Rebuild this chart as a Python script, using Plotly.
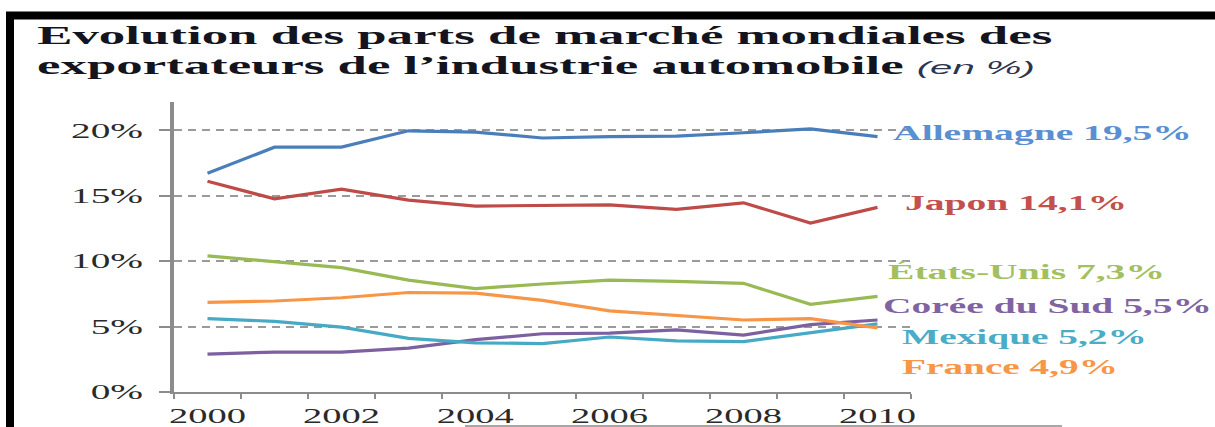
import json
import plotly.graph_objects as go

# ---------------- data ----------------
years = [2000, 2001, 2002, 2003, 2004, 2005, 2006, 2007, 2008, 2009, 2010]
allemagne = [16.7, 18.7, 18.7, 19.95, 19.85, 19.4, 19.5, 19.55, 19.8, 20.1, 19.5]
japon = [16.1, 14.75, 15.5, 14.65, 14.2, 14.25, 14.3, 13.95, 14.45, 12.9, 14.1]
etats_unis = [10.4, 9.95, 9.5, 8.55, 7.9, 8.25, 8.55, 8.45, 8.3, 6.7, 7.3]
coree = [2.9, 3.05, 3.05, 3.35, 4.0, 4.45, 4.5, 4.75, 4.35, 5.15, 5.5]
mexique = [5.6, 5.4, 4.95, 4.1, 3.75, 3.7, 4.2, 3.9, 3.85, 4.5, 5.2]
france = [6.85, 6.95, 7.2, 7.6, 7.55, 7.0, 6.2, 5.85, 5.5, 5.6, 4.9]

series_names = ["Allemagne", "Japon", "États-Unis", "Corée du Sud", "Mexique", "France"]
series_labels = ["Allemagne 19,5%", "Japon 14,1%", "États-Unis 7,3%",
                 "Corée du Sud 5,5%", "Mexique 5,2%", "France 4,9%"]
x_tick_labels = ["2000", "2002", "2004", "2006", "2008", "2010"]
x_tick_years = [2000, 2002, 2004, 2006, 2008, 2010]
y_ticks = [0, 5, 10, 15, 20]
y_tick_labels = ["0%", "5%", "10%", "15%", "20%"]

title_line1 = "Evolution des parts de marché mondiales des"
title_line2 = "exportateurs de l\u2019industrie automobile"
title_unit = "(en %)"

# ---------------- styling ----------------
W, H = 1215, 427
L, R, T, B = 174, 911, 102, 392
line_colors = ["#4a7ebb", "#be4b48", "#98b954", "#7d60a0", "#46aac5", "#f79646"]
label_colors = ["#5b8fd3", "#c4504e", "#a3c05f", "#8064a2", "#4bacc6", "#f79646"]
label_pos = [(892, 132), (904, 202), (887, 271), (882, 305), (901, 336), (901, 366)]
label_widths = [299, 222, 277, 329, 245, 216]   # rendered widths in the reference
title_widths = [1016, 998]
SERIF = "Liberation Serif"


def px(x):
    return (x - L) / (R - L)


def py(y):
    return (B - y) / (B - T)


fig = go.Figure()
all_series = [allemagne, japon, etats_unis, coree, mexique, france]
for name, vals, col in zip(series_names, all_series, line_colors):
    fig.add_trace(go.Scatter(x=years, y=vals, mode="lines", name=name,
                             line=dict(color=col, width=3.2), showlegend=False))

annotations = []
for txt, col, (ax, ay) in zip(series_labels, label_colors, label_pos):
    annotations.append(dict(text=txt, x=px(ax), y=py(ay), xref="paper", yref="paper",
                            xanchor="left", yanchor="middle", showarrow=False, borderpad=0,
                            font=dict(family=SERIF, size=22, color=col, weight="bold")))

title_font = dict(family=SERIF, size=25, color="#14141e", weight="bold")
annotations.append(dict(text=title_line1, x=px(36), y=py(35.5), xref="paper", yref="paper",
                        xanchor="left", yanchor="middle", showarrow=False, borderpad=0,
                        font=title_font))
annotations.append(dict(text=title_line2 +
                        " <span style='font-weight:normal;font-style:italic;font-size:19px;"
                        "font-family:Liberation Sans;color:#2e3350'>" + title_unit + "</span>",
                        x=px(36), y=py(65), xref="paper", yref="paper",
                        xanchor="left", yanchor="middle", showarrow=False, borderpad=0,
                        font=title_font))

shapes = [
    # black frame: only its left and top edges fall inside the picture
    dict(type="rect", xref="paper", yref="paper", x0=px(10), x1=px(1300), y0=py(520), y1=py(15.5),
         fillcolor="rgba(0,0,0,0)", line=dict(color="black", width=8), layer="above"),
    # thin grey line at the bottom
    dict(type="line", xref="paper", yref="paper", x0=px(465), x1=px(1062), y0=py(426), y1=py(426),
         line=dict(color="#8a8a8a", width=1.5)),
]

fig.update_layout(
    width=W, height=H,
    margin=dict(l=L, r=W - R, t=T, b=H - B, pad=0, autoexpand=False),
    paper_bgcolor="white", plot_bgcolor="white",
    annotations=annotations, shapes=shapes,
    xaxis=dict(range=[1999.5, 2010.5], tickvals=x_tick_years, ticktext=x_tick_labels,
               ticks="", showgrid=False, zeroline=False, automargin=False,
               showline=True, linecolor="#8c8c8c", linewidth=2,
               tickfont=dict(family=SERIF, size=21, color="#2a2a2a"),
               ticklabelstandoff=4,
               minor=dict(tickvals=[y - 0.5 for y in years] + [2010.5], ticks="outside",
                          ticklen=5, tickcolor="#8c8c8c", tickwidth=2, showgrid=False)),
    yaxis=dict(range=[0, 22.15], tickvals=y_ticks, ticktext=y_tick_labels,
               ticks="outside", ticklen=11, tickcolor="#8c8c8c", tickwidth=1.5,
               showgrid=True, gridcolor="#9a9a9a", gridwidth=1.5, griddash="8px,6px",
               zeroline=False, showline=True, linecolor="#8c8c8c", linewidth=3.5,
               automargin=False,
               tickfont=dict(family=SERIF, size=21, color="#2a2a2a"),
               ticklabelstandoff=12),
)

# The reference image is horizontally stretched; reproduce that look by widening
# the rendered text (text stays real SVG text).
cfg = {
    "ann": label_widths + title_widths,
    "yref": ["20%", 72],
    "xref": ["2000", 77],
}
post = """
document.documentElement.style.margin = '0';
document.body.style.margin = '0';
document.body.style.padding = '0';
var gd = document.getElementById('{plot_id}');
var CFG = %s;
function stretch(el, s, pivot) {
  var bb = el.getBBox();
  if (!bb.width) return;
  var p = pivot === 'left' ? bb.x : (pivot === 'right' ? bb.x + bb.width : bb.x + bb.width / 2);
  var prev = el.getAttribute('transform') || '';
  el.setAttribute('transform', prev + ' translate(' + p + ',0) scale(' + s + ',1) translate(' + (-p) + ',0)');
}
function run() {
  CFG.ann.forEach(function(t, i) {
    var el = gd.querySelector('.annotation[data-index="' + i + '"] .annotation-text');
    if (el) { var w = el.getBBox().width; if (w) stretch(el, t / w, 'left'); }
  });
  [['.ytick text', CFG.yref, 'right'], ['.xtick text', CFG.xref, 'middle']].forEach(function(a) {
    var els = gd.querySelectorAll(a[0]);
    var ref = null;
    els.forEach(function(e) { if (e.textContent === a[1][0]) ref = e; });
    if (!ref) return;
    var s = a[1][1] / ref.getBBox().width;
    els.forEach(function(e) { stretch(e, s, a[2]); });
  });
}
run();
""" % json.dumps(cfg)

fig.write_html("out.html", post_script=post, config={"displayModeBar": False})
